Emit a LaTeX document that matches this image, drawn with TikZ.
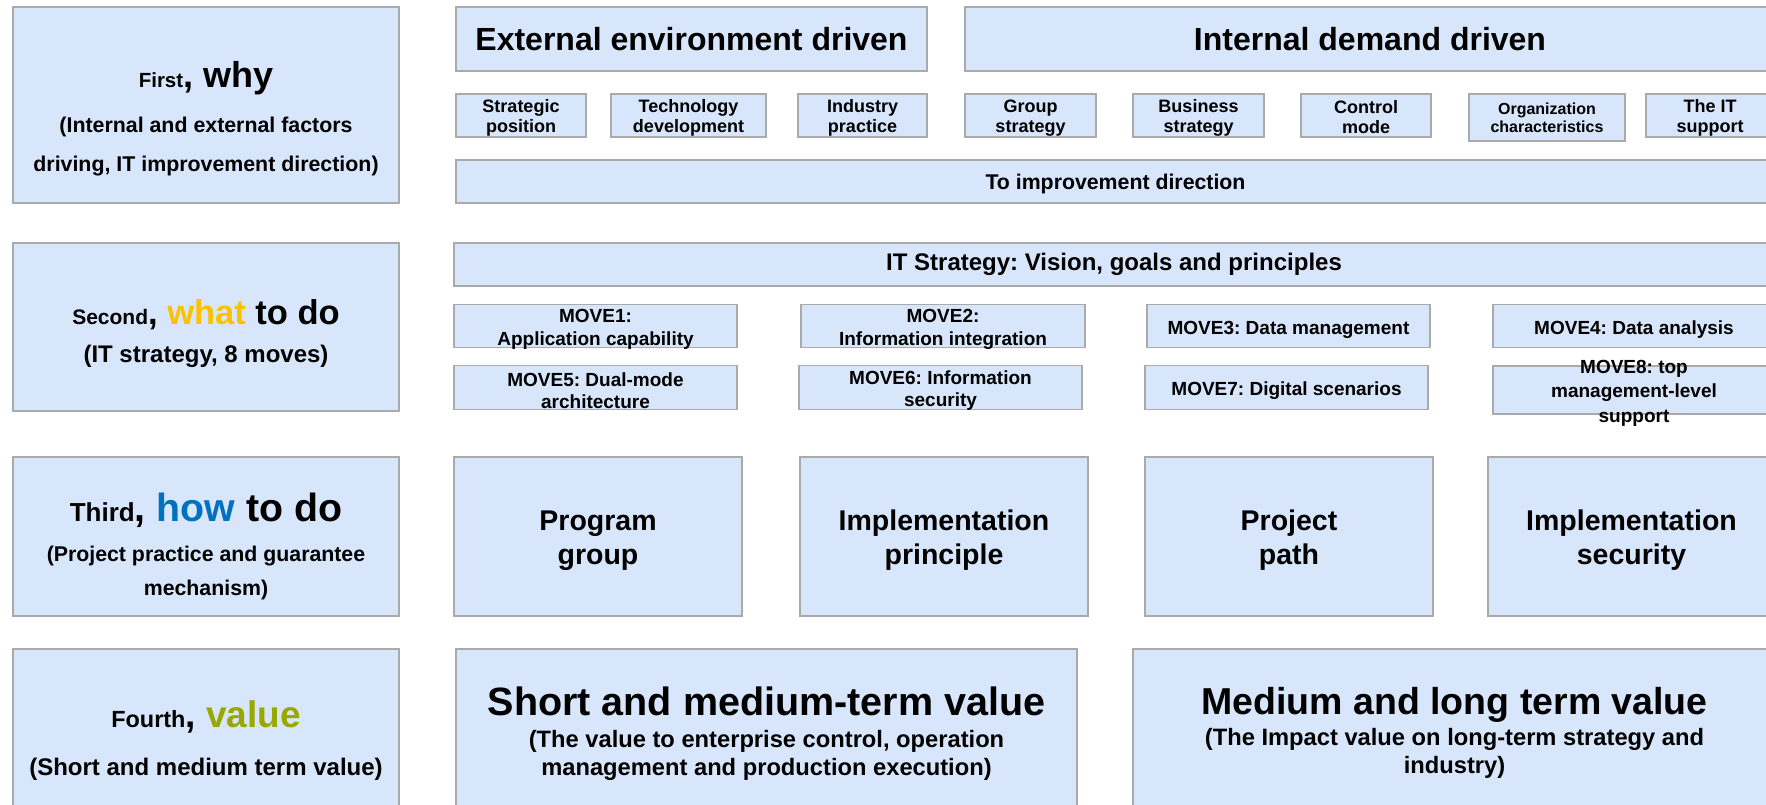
\documentclass[tikz,border=0pt]{standalone}
\usepackage{fontspec}
\setmainfont{Liberation Sans}
\usepackage{tikz}
\usetikzlibrary{positioning}

\definecolor{boxfill}{RGB}{216,230,251}
\definecolor{boxline}{RGB}{170,170,170}
\definecolor{whatcol}{RGB}{255,192,0}
\definecolor{howcol}{RGB}{0,112,192}
\definecolor{valcol}{RGB}{153,168,0}

\newcommand{\fsz}[2]{\fontsize{#1}{#2}\selectfont\bfseries\frenchspacing}
\newcommand{\padtop}[1]{\rule{0pt}{#1pt}}

\begin{document}
\begin{tikzpicture}[x=1pt, y=-1pt,
    box/.style={rectangle, draw=boxline, fill=boxfill, line width=1.3pt, inner sep=0pt, align=center},
    txt/.style={inner sep=0pt, align=center},
    side/.style={box, minimum width=386pt},
    factor/.style={box, minimum height=43pt, font=\fsz{18}{20}},
    move/.style={box, minimum height=43.5pt, font=\fsz{19}{22.5}},
    pillar/.style={box, minimum width=288pt, minimum height=159pt, font=\fsz{28.5}{34}}]
    \useasboundingbox (0,0) rectangle (1766,804);

    % left column: the four questions
    \node (why) [side, minimum height=196pt, font=\fsz{21.35}{39}] at (206,105)
        {\padtop{52.6}{\fsz{20.5}{24}First}{\fsz{36}{40}, why}\\[6pt](Internal and external factors\\driving, IT improvement direction)};
    \node (what) [side, minimum height=168pt, font=\fsz{24}{38}] at (206,327)
        {\padtop{37.1}{\fsz{21}{24}Second}{\fsz{34.5}{40}, \textcolor{whatcol}{what} to do}\\(IT strategy, 8 moves)};
    \node (how) [side, minimum height=159pt, font=\fsz{21.3}{34}] at (206,536.5)
        {\padtop{47.5}{\fsz{26}{30}Third}{\fsz{39.3}{44}, \textcolor{howcol}{how} to do}\\[6pt](Project practice and guarantee\\mechanism)};
    \node (value) [side, minimum height=182.6pt, font=\fsz{24}{48}] at (206,740.3)
        {{\fsz{23.4}{28}Fourth}{\fsz{37}{42}, \textcolor{valcol}{value}}\\(Short and medium term value)};

    % first row: drivers
    \node (ext) [box, minimum width=471pt, minimum height=64pt, font=\fsz{32}{38}] at (691.5,39) {External environment driven};
    \node (int) [box, minimum width=810pt, minimum height=64pt, font=\fsz{32}{38}] at (1370,39) {Internal demand driven};
    \node (strat) [factor, minimum width=130pt] at (521,115.5) {\padtop{17}Strategic\\position};
    \node (tech) [factor, minimum width=155pt] at (688.5,115.5) {\padtop{17}Technology\\development};
    \node (indus) [factor, minimum width=129pt] at (862.5,115.5) {\padtop{17}Industry\\practice};
    \node (group) [factor, minimum width=131pt] at (1030.5,115.5) {\padtop{17}Group\\strategy};
    \node (busi) [factor, minimum width=131pt] at (1198.5,115.5) {\padtop{17}Business\\strategy};
    \node (ctrl) [factor, minimum width=130pt] at (1366,115.5) {\padtop{17}Control\\mode};
    \node (org) [factor, minimum width=156pt, minimum height=47pt, font=\fsz{16}{18}] at (1547,117.5) {Organization\\characteristics};
    \node (itsup) [factor, minimum width=128pt] at (1710,115.5) {\padtop{17}The IT\\support};
    \node (dir) [box, minimum width=1319pt, minimum height=43pt, font=\fsz{21.3}{24}] at (1115.5,181.5) {\padtop{19.7}To improvement direction};

    % second row: strategy and moves
    \node (itstrat) [box, minimum width=1320pt, minimum height=43pt, font=\fsz{24}{28}] at (1114,264.5) {IT Strategy: Vision, goals and principles};
    \node (move1) [move, minimum width=283pt] at (595.5,326) {};
    \node (move1-t) [txt, font=\fsz{19}{22.5}] at (595.5,329.4) {MOVE1:\\Application capability};
    \node (move2) [move, minimum width=284pt] at (943,326) {};
    \node (move2-t) [txt, font=\fsz{19}{22.5}] at (943,329.4) {MOVE2:\\Information integration};
    \node (move3) [move, minimum width=283pt] at (1288.5,326) {\padtop{20.4}MOVE3: Data management};
    \node (move4) [move, minimum width=282pt] at (1634,326) {\padtop{20.4}MOVE4: Data analysis};
    \node (move5) [move, minimum width=283pt] at (595.5,387.5) {};
    \node (move5-t) [txt, font=\fsz{19}{22.5}] at (595.5,390.5) {MOVE5: Dual-mode\\architecture};
    \node (move6) [move, minimum width=283pt] at (940.5,387.5) {};
    \node (move6-t) [txt, font=\fsz{19}{22.5}] at (940.5,390.5) {MOVE6: Information\\security};
    \node (move7) [move, minimum width=283pt] at (1286.5,387.5) {\padtop{20.4}MOVE7: Digital scenarios};
    \node (move8) [move, minimum width=282pt, minimum height=48pt] at (1634,390) {};
    \node (move8-t) [txt, font=\fsz{19}{24.5}] at (1634,393) {MOVE8: top\\management-level\\support};

    % third row: how
    \node (prog) [pillar] at (598,536.5) {\padtop{27.4}Program\\group};
    \node (implp) [pillar] at (944,536.5) {\padtop{27.4}Implementation\\principle};
    \node (path) [pillar] at (1289,536.5) {\padtop{27.4}Project\\path};
    \node (impls) [pillar, minimum width=287pt] at (1631.5,536.5) {\padtop{27.4}Implementation\\security};

    % fourth row: value
    \node (short) [box, minimum width=621pt, minimum height=168.7pt, font=\fsz{23.7}{28}] at (766.5,733.3)
        {{\fsz{39.5}{44}Short and medium-term value}\\[4pt](The value to enterprise control, operation\\management and production execution)};
    \node (medlong) [box, minimum width=643pt, minimum height=167pt, font=\fsz{23.7}{28}] at (1454.5,732.5)
        {{\fsz{37.5}{42}Medium and long term value}\\[3pt](The Impact value on long-term strategy and\\industry)};
\end{tikzpicture}
\end{document}
